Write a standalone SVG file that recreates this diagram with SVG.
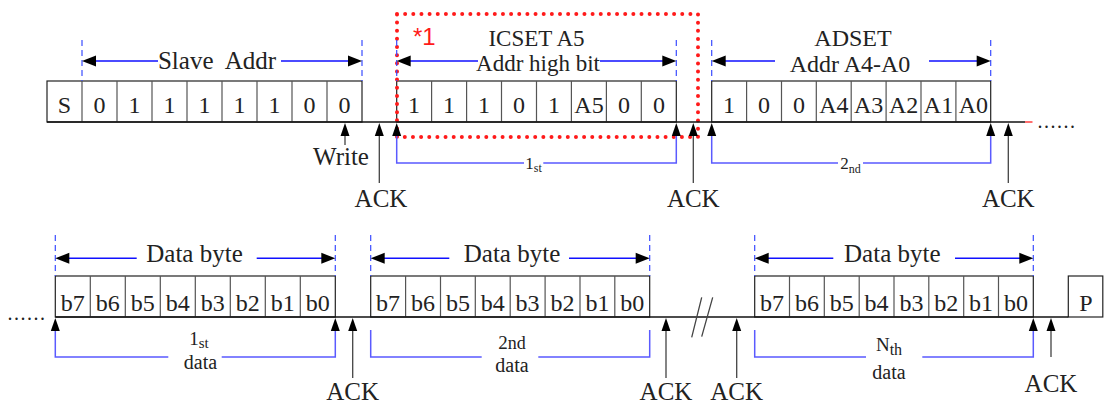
<svg xmlns="http://www.w3.org/2000/svg" xmlns:xlink="http://www.w3.org/1999/xlink" width="1104" height="405" viewBox="0 0 1104 405">
<style>
text{font-family:"Liberation Serif","Times New Roman",serif;fill:#222;}
.lbl{font-size:25px;text-anchor:middle;white-space:pre;}
.lbl2{font-size:23px;text-anchor:middle;}
.cell{font-size:24px;text-anchor:middle;}
.box{fill:none;stroke:#222;stroke-width:1.2;}
.sep{stroke:#555;stroke-width:1.2;}
.base{stroke:#111;stroke-width:1.3;fill:none;}
.dash{stroke:#3a4cff;stroke-width:1.2;stroke-dasharray:6 4;fill:none;}
.dim{stroke:#1010ff;stroke-width:1.5;fill:none;}
.brk{stroke:#5a5aff;stroke-width:1.5;fill:none;}
.shaft{stroke:#444;stroke-width:1.3;fill:none;}
.head{fill:#000;}
</style>
<defs>
<path id="up" d="M0,0 L-4.5,13 L4.5,13 Z"/>
<path id="lt" d="M0,0 L14,-5.5 L14,5.5 Z"/>
<path id="rt" d="M0,0 L-14,-5.5 L-14,5.5 Z"/>
</defs>

<!-- top row frames -->
<g id="slave-addr">
<rect class="box" x="47" y="81" width="315" height="41"/>
<path class="sep" d="M82,81V122M117,81V122M152,81V122M187,81V122M222,81V122M257,81V122M292,81V122M327,81V122"/>
<text class="cell" y="112.5"><tspan x="64.5">S</tspan><tspan x="99.5">0</tspan><tspan x="134.5">1</tspan><tspan x="169.5">1</tspan><tspan x="204.5">1</tspan><tspan x="239.5">1</tspan><tspan x="274.5">1</tspan><tspan x="309.5">0</tspan><tspan x="344.5">0</tspan></text>
<text class="lbl" x="217" y="68.5">Slave  Addr</text>
<text class="lbl" x="341" y="165">Write</text>
</g>

<g id="icset">
<rect class="box" x="396.7" y="81" width="279.6" height="41"/>
<path class="sep" d="M431.6,81V122M466.6,81V122M501.5,81V122M536.5,81V122M571.4,81V122M606.4,81V122M641.3,81V122"/>
<text class="cell" y="112.5"><tspan x="414">1</tspan><tspan x="449">1</tspan><tspan x="484">1</tspan><tspan x="519">0</tspan><tspan x="554">1</tspan><tspan x="589">A5</tspan><tspan x="624">0</tspan><tspan x="659">0</tspan></text>
<text class="lbl2" x="536.5" y="45.5">ICSET A5</text>
<text class="lbl2" x="538" y="71">Addr high bit</text>
</g>

<g id="adset">
<rect class="box" x="711.7" y="81" width="279" height="41"/>
<path class="sep" d="M746.6,81V122M781.5,81V122M816.3,81V122M851.2,81V122M886.1,81V122M921,81V122M955.9,81V122"/>
<text class="cell" y="112.5"><tspan x="729.1">1</tspan><tspan x="764">0</tspan><tspan x="798.9">0</tspan><tspan x="833.8">A4</tspan><tspan x="868.7">A3</tspan><tspan x="903.6">A2</tspan><tspan x="938.5">A1</tspan><tspan x="973.3">A0</tspan></text>
<text class="lbl2" x="853" y="45.5" style="font-size:24px">ADSET</text>
<text class="lbl2" x="850" y="71.5" style="font-size:24px">Addr A4-A0</text>
</g>

<g id="highlight">
<rect x="397" y="14" width="301" height="123" fill="none" stroke="#ff1a1a" stroke-width="4" stroke-linecap="round" stroke-dasharray="0 8.15"/>
<text x="413" y="45" style="font-family:'Liberation Sans',Arial,sans-serif;font-size:24px;fill:#ff1a1a;">*1</text>
</g>

<!-- bottom row frames -->
<g id="data1">
<rect class="box" x="55.3" y="276" width="280" height="41"/>
<path class="sep" d="M90.3,276V317M125.3,276V317M160.3,276V317M195.3,276V317M230.3,276V317M265.3,276V317M300.3,276V317"/>
<text class="cell" y="311"><tspan x="72.8">b7</tspan><tspan x="107.8">b6</tspan><tspan x="142.8">b5</tspan><tspan x="177.8">b4</tspan><tspan x="212.8">b3</tspan><tspan x="247.8">b2</tspan><tspan x="282.8">b1</tspan><tspan x="317.8">b0</tspan></text>
<text class="lbl" x="194.5" y="262">Data byte</text>
<text x="199" y="345" style="font-size:19px;text-anchor:middle">1<tspan dy="3" style="font-size:15px">st</tspan></text>
<text x="200.5" y="369" style="font-size:20px;text-anchor:middle">data</text>
</g>

<g id="data2">
<rect class="box" x="370.7" y="276" width="279" height="41"/>
<path class="sep" d="M405.6,276V317M440.5,276V317M475.3,276V317M510.2,276V317M545.1,276V317M580,276V317M614.8,276V317"/>
<text class="cell" y="311"><tspan x="388.1">b7</tspan><tspan x="423">b6</tspan><tspan x="457.9">b5</tspan><tspan x="492.8">b4</tspan><tspan x="527.6">b3</tspan><tspan x="562.5">b2</tspan><tspan x="597.4">b1</tspan><tspan x="632.3">b0</tspan></text>
<text class="lbl" x="512" y="262">Data byte</text>
<text x="512" y="349" style="font-size:19px;text-anchor:middle">2<tspan style="font-size:18px">nd</tspan></text>
<text x="512" y="371.5" style="font-size:20px;text-anchor:middle">data</text>
</g>

<g id="dataN">
<rect class="box" x="754.7" y="276" width="278.6" height="41"/>
<path class="sep" d="M789.5,276V317M824.3,276V317M859.2,276V317M894,276V317M928.8,276V317M963.7,276V317M998.5,276V317"/>
<text class="cell" y="311"><tspan x="772.1">b7</tspan><tspan x="806.9">b6</tspan><tspan x="841.8">b5</tspan><tspan x="876.6">b4</tspan><tspan x="911.4">b3</tspan><tspan x="946.3">b2</tspan><tspan x="981.1">b1</tspan><tspan x="1015.9">b0</tspan></text>
<text class="lbl" x="892.3" y="262">Data byte</text>
<text x="889" y="350.7" style="font-size:19px;text-anchor:middle">N<tspan dy="4.3" style="font-size:16px">th</tspan></text>
<text x="889" y="379" style="font-size:20px;text-anchor:middle">data</text>
</g>

<g id="stop">
<rect class="box" x="1068.3" y="276" width="34.5" height="41"/>
<text class="cell" x="1086" y="311">P</text>
</g>

<g id="labels">
<text class="lbl" x="381" y="207">ACK</text>
<text class="lbl" x="693.3" y="207">ACK</text>
<text class="lbl" x="1008.3" y="207">ACK</text>
<text class="lbl" x="352.7" y="400">ACK</text>
<text class="lbl" x="666" y="400">ACK</text>
<text class="lbl" x="736.7" y="400">ACK</text>
<text class="lbl" x="1051" y="392">ACK</text>
<text x="533.5" y="169" style="font-size:17px;text-anchor:middle">1<tspan dy="3" style="font-size:12px">st</tspan></text>
<text x="850.5" y="169" style="font-size:17px;text-anchor:middle">2<tspan dy="4" style="font-size:12px">nd</tspan></text>
<text x="1057" y="128" style="font-size:20px;text-anchor:middle;letter-spacing:1.5px">......</text>
<text x="27" y="320" style="font-size:20px;text-anchor:middle;letter-spacing:1.5px">......</text>
</g>

<g id="connectors">
<!-- bus lines -->
<path class="base" d="M47,122H1025"/>
<path d="M1025,122H1032.5" stroke="#ff2020" stroke-width="1.3"/>
<path class="base" d="M55.3,317H1068.3"/>
<path class="shaft" d="M691.7,337.3L701.7,297.3M701.7,336.7L712.7,297.3"/>

<!-- dashed extension lines -->
<path class="dash" d="M82,40V81M362,40V81M396.7,40V81M676.3,40V81M711.7,40V81M990.7,40V81"/>
<path class="dash" d="M55.3,235V276M335.3,235V276M370.7,235V276M649.7,235V276M754.7,235V276M1033.3,235V276"/>

<!-- dimension lines -->
<path class="dim" d="M92,61H158M281,61H352M406,61H478M600,61H666M721,61H775M929,61H981"/>
<path class="dim" d="M65,258.3H136.7M256.7,258.3H325M380,258.3H449.3M569,258.3H640M764,258.3H833.3M955,258.3H1023"/>
<g class="head">
<use xlink:href="#lt" x="82" y="61"/><use xlink:href="#rt" x="362" y="61"/>
<use xlink:href="#lt" x="396.7" y="61"/><use xlink:href="#rt" x="676.3" y="61"/>
<use xlink:href="#lt" x="711.7" y="61"/><use xlink:href="#rt" x="990.7" y="61"/>
<use xlink:href="#lt" x="55.3" y="258.3"/><use xlink:href="#rt" x="335.3" y="258.3"/>
<use xlink:href="#lt" x="370.7" y="258.3"/><use xlink:href="#rt" x="649.7" y="258.3"/>
<use xlink:href="#lt" x="754.7" y="258.3"/><use xlink:href="#rt" x="1033.3" y="258.3"/>
</g>

<!-- brackets -->
<path class="brk" d="M396.7,135V163H524M543.3,163H676.3V135"/>
<path class="brk" d="M711.7,135V163H838M863,163H990.7V135"/>
<path class="brk" d="M55.3,330V357H168.3M221.7,357H335.3V330"/>
<path class="brk" d="M370.7,330V357H481.7M538.3,357H649.7V330"/>
<path class="brk" d="M754.7,330V357H866M922.3,357H1033.3V330"/>

<!-- ACK / Write arrows -->
<path class="shaft" d="M345,135V145M379.3,135V183M693.3,135V183M1008.3,135V183"/>
<path class="shaft" d="M352.7,330V378M666,330V378M736.7,330V378M1051,330V357"/>
<g class="head">
<use xlink:href="#up" x="345" y="123"/><use xlink:href="#up" x="379.3" y="123"/>
<use xlink:href="#up" x="396.7" y="123"/><use xlink:href="#up" x="676.3" y="123"/>
<use xlink:href="#up" x="693.3" y="123"/><use xlink:href="#up" x="711.7" y="123"/>
<use xlink:href="#up" x="990.7" y="123"/><use xlink:href="#up" x="1008.3" y="123"/>
<use xlink:href="#up" x="55.3" y="318"/><use xlink:href="#up" x="335.3" y="318"/>
<use xlink:href="#up" x="352.7" y="318"/><use xlink:href="#up" x="666" y="318"/>
<use xlink:href="#up" x="736.7" y="318"/><use xlink:href="#up" x="1033.3" y="318"/>
<use xlink:href="#up" x="1051" y="318"/>
</g>
</g>
</svg>
